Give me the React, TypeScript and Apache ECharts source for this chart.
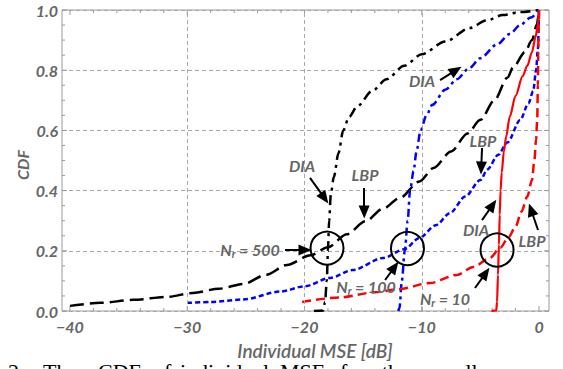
import React, { useEffect, useRef } from "react";
import * as echarts from "echarts";

// ---- axis / tick values ----
const X_MIN = -40.68;
const X_MAX = 0.85;
const xTickLabels = [-40, -30, -20, -10, 0];
const xMinorTicks = [-38, -36, -34, -32, -28, -26, -24, -22, -18, -16, -14, -12, -8, -6, -4, -2];
const xGridLines = [-30, -20, -10];
const yTickLabels = [0, 0.2, 0.4, 0.6, 0.8, 1.0];
const yMinorTicks = [0.05, 0.1, 0.15, 0.25, 0.3, 0.35, 0.45, 0.5, 0.55, 0.65, 0.7, 0.75, 0.85, 0.9, 0.95];

// ---- series (Individual MSE [dB], CDF) ----
const n500LBP: number[][] = [
  [-40, 0.017], [-37.4, 0.027], [-34.6, 0.037], [-31.7, 0.047], [-29.5, 0.06], [-27.3, 0.074],
  [-25.2, 0.09], [-23.3, 0.12], [-21.5, 0.153], [-19.5, 0.185], [-18, 0.212], [-16.4, 0.255],
  [-14.8, 0.298], [-13.3, 0.34], [-11.9, 0.375], [-10.2, 0.43], [-9, 0.475], [-7.5, 0.53],
  [-6.1, 0.59], [-5, 0.635], [-3.8, 0.7], [-2.7, 0.775], [-2.2, 0.81], [-1.2, 0.86],
  [-0.6, 0.9], [-0.2, 0.95], [0, 1],
];
const n500DIA: number[][] = [
  [-19.2, 0], [-18.4, 0.002], [-18.25, 0.03], [-18.1, 0.1], [-18.0, 0.2], [-17.9, 0.3],
  [-17.75, 0.39], [-17.5, 0.445], [-17.1, 0.525], [-16.7, 0.6], [-16.2, 0.645], [-15.5, 0.68],
  [-14.2, 0.732], [-13, 0.77], [-11.5, 0.815], [-10, 0.853], [-8, 0.895], [-5.9, 0.94],
  [-4.5, 0.965], [-3.1, 0.983], [-1.6, 0.993], [0, 1],
];
const n100LBP: number[][] = [
  [-30, 0.027], [-28, 0.03], [-25.3, 0.038], [-22, 0.065], [-20, 0.082], [-17.8, 0.11],
  [-15.9, 0.136], [-13.3, 0.176], [-11.5, 0.205], [-10.2, 0.243], [-8.8, 0.285], [-7.6, 0.325],
  [-6.3, 0.38], [-5, 0.435], [-4.4, 0.47], [-3.5, 0.518], [-2.7, 0.56], [-1.6, 0.635],
  [-0.9, 0.69], [-0.5, 0.73], [-0.25, 0.8], [-0.1, 0.87], [0, 1],
];
const n100DIA: number[][] = [
  [-12, 0], [-11.9, 0.01], [-11.7, 0.1], [-11.45, 0.2], [-11.2, 0.3], [-11.0, 0.4],
  [-10.7, 0.465], [-10.45, 0.53], [-10.1, 0.6], [-9.6, 0.65], [-9.1, 0.685], [-8, 0.735],
  [-7, 0.77], [-6, 0.805], [-5, 0.84], [-3.6, 0.885], [-2.5, 0.92], [-1.6, 0.95],
  [-0.7, 0.975], [0, 1],
];
const n10DIA: number[][] = [
  [-4.05, 0], [-3.65, 0.002], [-3.58, 0.03], [-3.5, 0.12], [-3.42, 0.22], [-3.35, 0.32],
  [-3.28, 0.4], [-3.18, 0.46], [-3.0, 0.53], [-2.8, 0.58], [-2.5, 0.645], [-2.0, 0.715],
  [-1.4, 0.78], [-1.0, 0.815], [-0.6, 0.86], [-0.3, 0.91], [-0.1, 0.95], [0, 1],
];
const n10LBP: number[][] = [
  [-20.2, 0.03], [-17, 0.045], [-14, 0.062], [-12, 0.072], [-9.3, 0.093], [-7, 0.12],
  [-5.6, 0.146], [-4.2, 0.176], [-3.3, 0.21], [-2.6, 0.245], [-2.0, 0.28], [-1.5, 0.33],
  [-1.0, 0.38], [-0.6, 0.435], [-0.4, 0.5], [-0.25, 0.57], [-0.15, 0.64], [-0.1, 0.75],
  [-0.07, 0.85], [-0.04, 0.93], [0, 1],
];

// ---- annotations (data coordinates) ----
const circleCenters: number[][] = [[-18.08, 0.209], [-11.22, 0.2076], [-3.58, 0.2027]];
const arrows: number[][][] = [
  [[-19.53, 0.442], [-18.29, 0.375]],
  [[-14.93, 0.409], [-14.91, 0.329]],
  [[-21.66, 0.2027], [-19.96, 0.2027]],
  [[-13.13, 0.103], [-12.32, 0.146]],
  [[-5.46, 0.0764], [-4.55, 0.126]],
  [[-4.86, 0.302], [-3.96, 0.352]],
  [[-0.085, 0.269], [-0.68, 0.3365]],
  [[-8.44, 0.767], [-7.08, 0.8]],
  [[-4.86, 0.5415], [-4.93, 0.475]],
];
const labelTexts = ["DIA", "LBP", "{n|N}{s|r}{n| = 500}", "{n|N}{s|r}{n| = 100}", "{n|N}{s|r}{n| = 10}", "DIA", "LBP", "DIA", "LBP"];
const labelPos: number[][] = [
  [-20.21, 0.485], [-14.84, 0.452], [-24.65, 0.203], [-14.76, 0.083], [-8.02, 0.04],
  [-5.37, 0.272], [-0.6, 0.2326], [-9.98, 0.767], [-4.78, 0.565],
];
const captionWords = ["2:", "The", "CDF", "of", "individual", "MSE", "for", "the", "small"];
const captionX = [8, 43, 98, 153, 180, 280, 340, 382, 430];

const GRAY = "#666666";
const FRAME = "#9a9a9a";
const FONT = "Lato, 'Open Sans', sans-serif";

const fmtX = (v: number) => (v < 0 ? "\u2212" + Math.abs(v) : String(v));

function lineSeries(name: string, data: number[][], color: string, type: any, width: number) {
  return {
    type: "line",
    name,
    data,
    showSymbol: false,
    symbol: "none",
    smooth: 0.3,
    smoothMonotone: "x",
    z: 3,
    lineStyle: { color, width, type, cap: "butt", join: "round" },
  };
}

export default function App() {
  const ref = useRef<HTMLDivElement>(null);
  useEffect(() => {
    if (!ref.current) return;
    const chart = echarts.init(ref.current, null, { renderer: "svg" });
    const annoFont = {
      color: GRAY,
      fontFamily: FONT,
      fontWeight: "bold",
      fontStyle: "italic",
      fontSize: 16,
    };
    const option: any = {
      animation: false,
      backgroundColor: "#ffffff",
      grid: {
        left: 62,
        right: 14,
        top: 10,
        bottom: 58,
        show: true,
        borderColor: FRAME,
        borderWidth: 1,
        backgroundColor: "rgba(0,0,0,0)",
      },
      xAxis: {
        type: "value",
        min: X_MIN,
        max: X_MAX,
        axisLine: { show: false },
        axisTick: { show: false },
        splitLine: { show: false },
        axisLabel: {
          customValues: xTickLabels,
          formatter: fmtX,
          color: GRAY,
          fontFamily: FONT,
          fontWeight: "bold",
          fontStyle: "italic",
          fontSize: 16,
          margin: 7,
        },
      },
      yAxis: {
        type: "value",
        min: 0,
        max: 1,
        interval: 0.2,
        axisLine: { show: false },
        axisTick: { show: false },
        splitLine: { show: true, lineStyle: { color: "#a8a8a8", type: [4, 3], width: 1 } },
        axisLabel: {
          formatter: (v: number) => v.toFixed(1),
          color: GRAY,
          fontFamily: FONT,
          fontWeight: "bold",
          fontStyle: "italic",
          fontSize: 16,
          margin: 4,
        },
      },
      graphic: [
        {
          type: "text",
          x: 22,
          y: 165,
          rotation: Math.PI / 2,
          style: { text: "CDF", align: "center", verticalAlign: "middle", fill: GRAY, font: `italic bold 16px ${FONT}` },
        },
        {
          type: "text",
          x: 315,
          y: 350,
          style: { text: "Individual MSE [dB]", align: "center", verticalAlign: "middle", lineHeight: 18, fill: GRAY, font: `italic 600 19px ${FONT}` },
        },
        ...captionWords.map((w, i) => ({
          type: "text",
          x: captionX[i],
          y: 360,
          style: { text: w, align: "left", verticalAlign: "top", fill: "#000", font: `22px 'Liberation Serif', serif` },
        })),
      ],
      series: [
        // frame ticks, x
        {
          type: "custom",
          silent: true,
          clip: false,
          z: 1,
          data: [...xTickLabels.map((v) => [v, 1]), ...xMinorTicks.map((v) => [v, 0])],
          renderItem: (params: any, api: any) => {
            const v = api.value(0);
            const len = api.value(1) ? 5 : 3;
            const b = api.coord([v, 0]);
            const t = api.coord([v, 1]);
            const st = { stroke: FRAME, lineWidth: 1 };
            return {
              type: "group",
              children: [
                { type: "line", shape: { x1: b[0], y1: b[1], x2: b[0], y2: b[1] - len }, style: st },
                { type: "line", shape: { x1: t[0], y1: t[1], x2: t[0], y2: t[1] + len }, style: st },
              ],
            };
          },
        },
        // frame ticks, y
        {
          type: "custom",
          silent: true,
          clip: false,
          z: 1,
          data: [...yTickLabels.map((v) => [-20, v, 1]), ...yMinorTicks.map((v) => [-20, v, 0])],
          renderItem: (params: any, api: any) => {
            const v = api.value(1);
            const len = api.value(2) ? 5 : 3;
            const l = api.coord([X_MIN, v]);
            const r = api.coord([X_MAX, v]);
            const st = { stroke: FRAME, lineWidth: 1 };
            return {
              type: "group",
              children: [
                { type: "line", shape: { x1: l[0], y1: l[1], x2: l[0] + len, y2: l[1] }, style: st },
                { type: "line", shape: { x1: r[0], y1: r[1], x2: r[0] - len, y2: r[1] }, style: st },
              ],
            };
          },
        },
        // vertical grid lines
        {
          type: "line",
          data: [],
          z: 1,
          markLine: {
            silent: true,
            symbol: ["none", "none"],
            label: { show: false },
            lineStyle: { color: "#a8a8a8", type: [4, 3], width: 1 },
            data: xGridLines.map((v) => ({ xAxis: v })),
          },
        },
        lineSeries("N500 LBP", n500LBP, "#000000", [14, 6], 2.5),
        lineSeries("N500 DIA", n500DIA, "#000000", [10, 5, 3, 5], 2.5),
        lineSeries("N100 LBP", n100LBP, "#0000ff", [5, 3], 2.5),
        lineSeries("N100 DIA", n100DIA, "#0000ff", [8, 4, 3, 4], 2.5),
        lineSeries("N10 DIA", n10DIA, "#ff0000", "solid", 2.2),
        lineSeries("N10 LBP", n10LBP, "#ff0000", [9, 5], 2.5),
        // annotations
        {
          type: "line",
          data: [],
          z: 5,
          markLine: {
            silent: true,
            symbol: ["none", "triangle"],
            symbolSize: [11, 13],
            label: { show: false },
            lineStyle: { color: "#000", type: "solid", width: 2 },
            emphasis: { disabled: true },
            data: arrows.map((a) => [{ coord: a[0] }, { coord: a[1] }]),
          },
          markPoint: {
            silent: true,
            data: [
              ...circleCenters.map((c) => ({
                coord: c,
                symbol: "circle",
                symbolSize: 33,
                itemStyle: { color: "rgba(0,0,0,0)", borderColor: "#000", borderWidth: 2 },
                label: { show: false },
              })),
              ...labelPos.map((p, i) => ({
                coord: p,
                symbol: "circle",
                symbolSize: 1,
                itemStyle: { color: "rgba(0,0,0,0)" },
                label: {
                  show: true,
                  position: "inside",
                  formatter: labelTexts[i],
                  ...annoFont,
                  rich: {
                    n: { ...annoFont },
                    s: { ...annoFont, fontSize: 11, padding: [8, 0, 0, 0] },
                  },
                },
              })),
            ],
          },
        },
      ],
    };
    chart.setOption(option);
    return () => chart.dispose();
  }, []);
  return <div ref={ref} style={{ width: 563, height: 369, position: "absolute", left: 0, top: 0 }} />;
}
